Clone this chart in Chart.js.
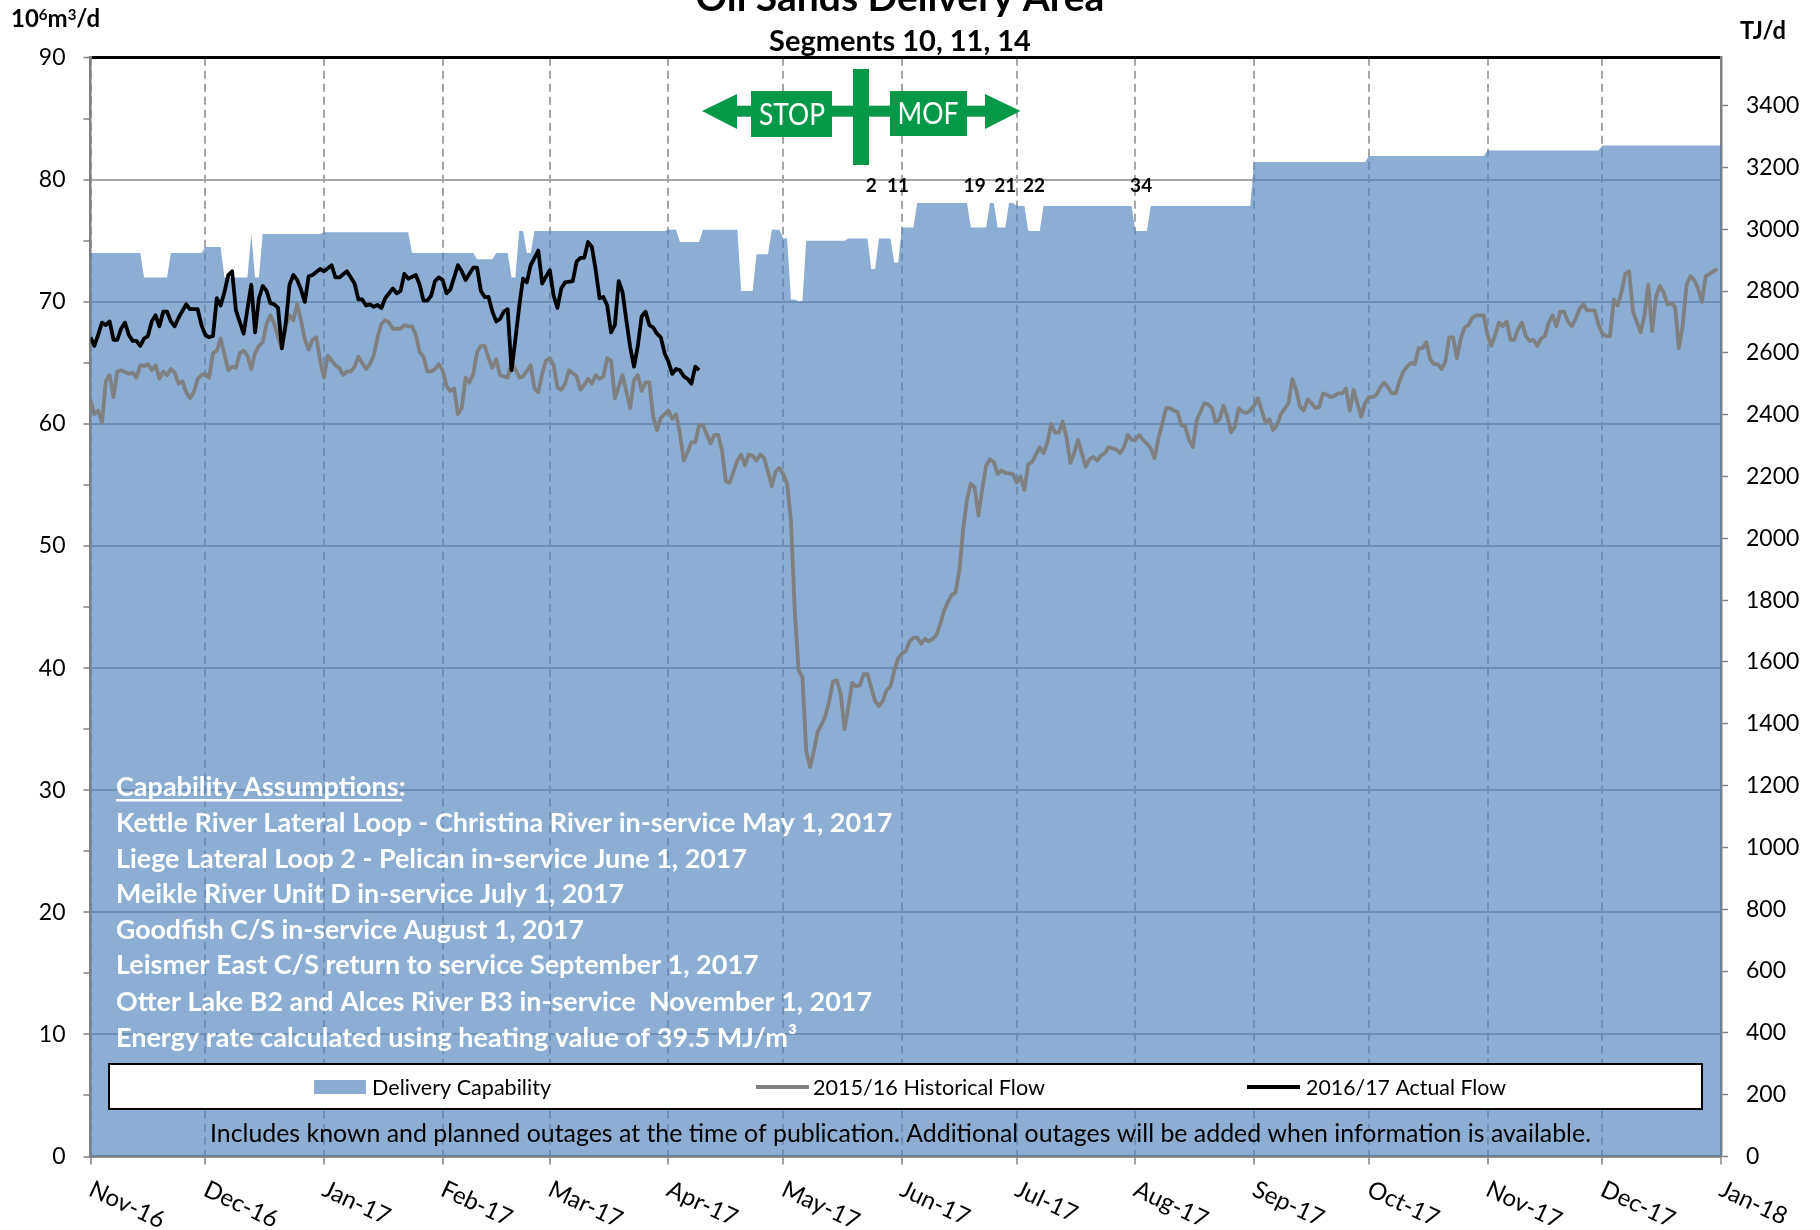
<!DOCTYPE html>
<html>
<head>
<meta charset="utf-8">
<style>html,body{margin:0;padding:0;background:#fff}canvas{display:block}</style>
<script src="https://cdn.jsdelivr.net/npm/chart.js@4/dist/chart.umd.min.js"></script>
</head>
<body>
<canvas id="c" width="1820" height="1230"></canvas>
<script>
const monthDays = [0,30,61,92,120,151,181,212,242,273,304,334,365,395,426];
const monthLabels = ['Nov-16','Dec-16','Jan-17','Feb-17','Mar-17','Apr-17','May-17','Jun-17','Jul-17','Aug-17','Sep-17','Oct-17','Nov-17','Dec-17','Jan-18'];

const deliveryCapability = [[0,74],[13,74],[14,72],[20,72],[21,74],[29,74],[30,74.5],[34,74.5],[35,72],[41,72],[42,75.55],[43,72],[44,72],[45,75.55],[60,75.55],[61,75.7],[83,75.7],[84,74],[100,74],[101,73.5],[105,73.5],[106,74],[109,74],[110,72],[111,72],[112,75.8],[113,75.8],[114,74],[115,74],[116,75.8],[150,75.8],[151,75.9],[153,75.9],[154,74.9],[159,74.9],[160,75.9],[169,75.9],[170,70.9],[173,70.9],[174,73.9],[177,73.9],[178,75.9],[180,75.9],[181,75.2],[182,75.2],[183,70.2],[184,70.2],[185,70.05],[186,70.05],[187,75],[197,75],[198,75.2],[203,75.2],[204,72.7],[205,72.7],[206,75.2],[209,75.2],[210,73.2],[211,73.2],[212,76.1],[215,76.1],[216,78.1],[229,78.1],[230,76.1],[234,76.1],[235,78.1],[236,78.1],[237,76.1],[239,76.1],[240,78.1],[241,78.1],[242,77.85],[244,77.85],[245,75.8],[248,75.8],[249,77.85],[272,77.85],[273,75.8],[276,75.8],[277,77.85],[303,77.85],[304,81.45],[333,81.45],[334,81.95],[364,81.95],[365,82.4],[394,82.4],[395,82.8],[426,82.8]];

const historicalFlow = [[0,61.9],[1,60.8],[2,61.1],[3,60.1],[4,63.5],[5,64],[6,62.2],[7,64.3],[8,64.4],[10,64.1],[11,64.2],[12,63.8],[13,64.8],[14,64.75],[15,64.9],[16,64.4],[17,64.8],[18,63.7],[19,64.3],[20,64],[21,64.5],[22,64.2],[23,63.3],[24,63.5],[25,62.6],[26,62.1],[27,62.6],[28,63.7],[29,64],[30,64.1],[31,63.8],[32,65.8],[33,66],[34,67],[36,64.4],[37,64.7],[38,64.6],[39,65.8],[40,66],[41,65.6],[42,64.5],[43,65.8],[44,66.4],[45,66.7],[46,68.2],[47,68.9],[48,68.2],[49,67.1],[50,66.2],[51,68],[52,68.9],[53,68.5],[54,69.8],[55,68.5],[56,66.9],[57,66.1],[58,66.9],[59,67.1],[60,65.2],[61,63.8],[62,65.6],[63,65.2],[64,64.8],[65,64.6],[66,64],[67,64.3],[68,64.3],[69,64.7],[70,65.5],[71,65],[72,64.5],[73,64.9],[74,65.6],[75,67.1],[76,68.2],[77,68.5],[78,68.3],[79,67.8],[81,67.8],[82,68.1],[83,68],[84,68],[85,67.3],[86,65.9],[87,65.5],[88,64.3],[89,64.3],[90,64.5],[91,64.9],[92,64.4],[93,63.1],[94,62.7],[95,62.9],[96,60.8],[97,61.3],[98,63.8],[99,63.4],[100,64.1],[101,65.9],[102,66.4],[103,66.4],[104,65.4],[105,64.6],[106,65.3],[107,64],[108,63.9],[109,63.8],[110,65.1],[111,64.5],[112,63.8],[113,63.9],[115,64.8],[116,62.9],[117,62.6],[118,64.1],[119,65.2],[120,65.4],[121,64.8],[122,63],[123,62.8],[124,63.3],[125,64.4],[127,63.9],[128,62.8],[129,63.2],[130,63.7],[131,63.3],[132,64],[133,63.7],[134,63.9],[135,65.4],[136,65.2],[137,62.1],[139,64],[141,61.3],[142,63.6],[143,64],[144,62.7],[145,63.4],[146,63.4],[147,60.6],[148,59.5],[149,60.5],[150,60.8],[151,61.1],[152,60.4],[153,60.8],[154,59.2],[155,57],[156,57.7],[157,58.5],[158,58.5],[159,59.9],[160,59.9],[162,58.4],[163,59.1],[164,59.1],[165,57.8],[166,55.3],[167,55.2],[168,56.1],[169,57],[170,57.5],[171,56.6],[172,57.5],[173,57.4],[174,57],[175,57.5],[176,57.2],[177,56.1],[178,54.9],[179,56.1],[180,56.4],[181,55.9],[182,55.1],[183,52.1],[184,44.7],[185,39.8],[186,39.3],[187,33.2],[188,31.9],[189,33.2],[190,34.8],[191,35.4],[192,36.1],[193,37.3],[194,38.9],[195,39],[196,37.9],[197,35],[198,36.8],[199,38.8],[200,38.5],[201,38.6],[202,39.5],[203,39.5],[204,38.4],[205,37.3],[206,36.9],[207,37.3],[208,38.2],[209,38.5],[210,39.8],[211,40.8],[212,41.2],[213,41.4],[214,42.2],[215,42.5],[216,42.5],[217,42],[218,42.4],[219,42.2],[220,42.4],[221,42.7],[222,43.6],[223,44.7],[224,45.4],[225,46],[226,46.2],[227,48],[228,51.4],[229,53.8],[230,55.1],[231,54.8],[232,52.5],[233,54.7],[234,56.6],[235,57.1],[236,56.9],[237,55.9],[238,56.2],[239,56],[241,55.9],[242,55.2],[243,55.7],[244,54.6],[245,56.7],[246,56.9],[248,58.1],[249,57.6],[250,58.5],[251,60],[252,59.3],[253,59.3],[254,60.2],[255,58.9],[256,56.8],[257,57.6],[258,58.7],[259,57.6],[260,56.5],[261,57.1],[262,57.3],[263,57],[264,57.4],[265,57.6],[266,58.1],[268,57.9],[269,57.6],[270,58.1],[271,59.1],[272,58.7],[273,58.7],[274,59.1],[275,58.7],[276,58.4],[277,58],[278,57.2],[279,58.8],[280,60],[281,61.3],[282,61.3],[283,61.1],[284,61],[285,59.9],[286,59.8],[287,58.7],[288,58.1],[289,60.3],[290,61],[291,61.7],[292,61.6],[293,61.3],[294,60.1],[295,60.4],[296,61.5],[297,60.6],[298,59.3],[299,59.8],[300,61.3],[301,61],[302,60.9],[303,61.1],[304,61.5],[305,62.1],[306,61.1],[307,60.1],[308,60.4],[309,59.5],[310,59.9],[311,60.8],[313,61.7],[314,63.7],[315,62.8],[316,61.4],[317,61.1],[318,62],[319,61.7],[320,61.3],[321,61.4],[322,62.5],[323,62.4],[324,62.2],[325,62.3],[326,62.5],[327,62.5],[328,62.9],[329,61.1],[330,62.8],[331,61.7],[332,60.6],[333,61.7],[334,62.2],[335,62.2],[336,62.4],[337,63],[338,63.4],[339,63],[340,62.5],[341,62.5],[342,63.5],[343,64.3],[344,64.7],[345,65],[346,64.9],[347,66.2],[348,66.2],[349,66.7],[350,65.3],[351,64.9],[352,64.9],[353,64.5],[354,65.1],[355,67.1],[356,67.1],[357,65.4],[358,67],[359,67.9],[360,68.1],[361,68.7],[362,68.9],[363,68.9],[364,68.9],[365,67.3],[366,66.4],[367,67.3],[368,68.3],[369,68],[370,68.4],[371,66.9],[372,66.9],[373,67.8],[374,68.3],[375,67.2],[376,66.8],[377,66.9],[378,66.4],[379,67],[380,67.2],[381,68.3],[382,68.9],[383,68],[384,69.2],[385,69.2],[386,68.4],[387,68],[388,68.6],[389,69.4],[390,69.8],[391,69.3],[392,69.3],[393,69.3],[394,68.1],[395,67.4],[396,67.2],[397,67.2],[398,70.2],[399,69.7],[400,70.8],[401,72.3],[402,72.5],[403,69.2],[405,67.5],[406,68.9],[407,71.4],[408,67.6],[409,70.4],[410,71.3],[411,70.8],[412,69.8],[413,69.9],[414,69.6],[415,66.2],[416,68.1],[417,71.4],[418,72.1],[419,71.8],[420,71.1],[421,70],[422,72.1],[423,72.3],[425,72.7]];

const actualFlow = [[0,67.1],[1,66.4],[2,67.3],[3,68.3],[4,68.1],[5,68.4],[6,66.9],[7,66.9],[8,67.8],[9,68.3],[10,67.3],[11,66.8],[12,66.8],[13,66.4],[14,67],[15,67.2],[16,68.4],[17,68.9],[18,68],[19,69.2],[20,69.2],[21,68.4],[22,68],[23,68.7],[25,69.8],[26,69.4],[28,69.4],[29,68.1],[30,67.3],[31,67.1],[32,67.2],[33,70.3],[34,69.7],[35,70.8],[36,72.2],[37,72.5],[38,69.3],[40,67.4],[42,71.4],[43,67.5],[44,70.3],[45,71.3],[46,70.9],[47,69.9],[48,69.8],[49,69.5],[50,66.2],[51,68.2],[52,71.4],[53,72.2],[54,71.8],[55,71],[56,70],[57,72.1],[58,72.2],[60,72.7],[61,72.5],[63,73],[64,72],[65,72],[67,72.5],[68,72],[69,71.5],[70,70.2],[71,70.2],[72,69.7],[73,69.8],[74,69.6],[75,69.75],[76,69.5],[77,70.3],[79,71.1],[80,70.7],[81,70.9],[82,72.3],[83,71.9],[85,72.2],[86,71.4],[87,70.1],[88,70.1],[89,70.5],[90,71.7],[91,72],[92,71.8],[93,70.7],[94,71],[96,73],[97,72.5],[98,71.8],[99,72.3],[100,72.8],[101,72.8],[102,70.9],[103,70.4],[104,70.4],[105,69.2],[106,68.4],[107,68.6],[108,69.2],[109,69.4],[110,64.4],[111,66.9],[112,69.6],[113,71.9],[114,71.6],[115,73],[117,74.2],[118,71.5],[120,72.6],[121,70.5],[122,69.5],[123,71.1],[124,71.6],[126,71.7],[127,73.3],[128,73.6],[129,73.6],[130,74.9],[131,74.5],[132,72.6],[133,70.3],[134,70.4],[135,69.7],[136,67.5],[137,68.1],[138,71.7],[139,70.8],[140,68.5],[141,66.3],[142,64.7],[143,66.4],[144,68.8],[145,69.2],[146,68.1],[147,67.9],[148,67.4],[149,67.1],[150,65.8],[151,65.1],[152,64.1],[153,64.5],[154,64.4],[155,63.9],[156,63.7],[157,63.3],[158,64.7],[159,64.4]];

const leftTickStep = 5;
const rightTickStep = 200;
const leftMax = 90;
const rightMax = 3555;
const outageLabels = ['2','11','19','21','22','34'];
const outageDays = [204,211,231,239,246.5,274.5];
const assumptionLines = [
  'Capability Assumptions:',
  'Kettle River Lateral Loop - Christina River in-service May 1, 2017',
  'Liege Lateral Loop 2 - Pelican in-service June 1, 2017',
  'Meikle River Unit D in-service July 1, 2017',
  'Goodfish C/S in-service August 1, 2017',
  'Leismer East C/S return to service September 1, 2017',
  'Otter Lake B2 and Alces River B3 in-service  November 1, 2017',
  'Energy rate calculated using heating value of 39.5 MJ/m³'
];
const assumptionWidths = [293,778,631,508,468,644,756,691];
const assumptionY = [787,823,859,894,930,965,1002,1038];
const footnote = 'Includes known and planned outages at the time of publication. Additional outages will be added when information is available.';

const FONT = 'Lato, Carlito, sans-serif';
const toXY = a => a.map(p => ({x:p[0], y:p[1]}));

function text(ctx, s, x, y, font, color, align, maxW, base){
  ctx.font = font + ' ' + FONT;
  ctx.fillStyle = color;
  ctx.textAlign = align || 'left';
  ctx.textBaseline = base || 'alphabetic';
  if (maxW) ctx.fillText(s, x, y, maxW); else ctx.fillText(s, x, y);
}

const overlay = {
  id:'overlay',
  afterDraw(chart){
    const ctx = chart.ctx, xs = chart.scales.x, ys = chart.scales.y;
    ctx.save();
    // rotated month labels
    xs.ticks.forEach(t => {
      ctx.save();
      ctx.translate(xs.getPixelForValue(t.value) + 5, 1177);
      ctx.rotate(25 * Math.PI / 180);
      text(ctx, t.label, 0, 0, '24px', '#000', 'left', 84, 'top');
      ctx.restore();
    });
    // titles
    text(ctx, 'Oil Sands Delivery Area', 900, 11, 'bold 39px', '#000', 'center', 411);
    text(ctx, 'Segments 10, 11, 14', 900, 50.5, 'bold 29px', '#000', 'center', 265);
    // left unit label with raised exponents
    text(ctx, '10', 11, 27, 'bold 24px', '#000', 'left');
    let ux = 11 + ctx.measureText('10').width;
    text(ctx, '6', ux, 20, 'bold 15px', '#000', 'left');
    ux += ctx.measureText('6').width;
    text(ctx, 'm', ux, 27, 'bold 24px', '#000', 'left');
    ux += ctx.measureText('m').width;
    text(ctx, '3', ux, 20, 'bold 15px', '#000', 'left');
    ux += ctx.measureText('3').width;
    text(ctx, '/d', ux, 27, 'bold 24px', '#000', 'left');
    text(ctx, 'TJ/d', 1740, 39, 'bold 24px', '#000', 'left', 46);
    // outage numbers
    outageLabels.forEach((s,i) => {
      text(ctx, s, xs.getPixelForValue(outageDays[i]), ys.getPixelForValue(79.5), 'bold 19px', '#000', 'center', null, 'middle');
    });
    // STOP / MOF symbol
    const g = '#059849';
    ctx.fillStyle = g;
    ctx.fillRect(853,69,16,96);
    ctx.fillRect(735,105.7,252,11);
    ctx.fillRect(751,91,81,46);
    ctx.fillRect(890,91,77,45);
    ctx.beginPath(); ctx.moveTo(702,111); ctx.lineTo(737,94); ctx.lineTo(737,129); ctx.closePath(); ctx.fill();
    ctx.beginPath(); ctx.moveTo(1020.5,111); ctx.lineTo(985,94); ctx.lineTo(985,129); ctx.closePath(); ctx.fill();
    text(ctx, 'STOP', 792, 115, '30px', '#fff', 'center', 66, 'middle');
    text(ctx, 'MOF', 928, 114, '30px', '#fff', 'center', 61, 'middle');
    // assumptions
    assumptionLines.forEach((s,i) => {
      text(ctx, s, 116, assumptionY[i], 'bold 27px', '#fff', 'left', assumptionWidths[i], 'middle');
    });
    ctx.fillStyle = '#fff';
    ctx.fillRect(116, 799, 286, 2.5);
    // legend
    ctx.fillStyle = '#fff';
    ctx.fillRect(109,1064,1593,45);
    ctx.strokeStyle = '#000'; ctx.lineWidth = 2;
    ctx.strokeRect(109,1064,1593,45);
    chart.data.datasets.forEach((d,i) => {
      const lx = [314,756,1247][i], tx = [372,813,1306][i], tw = [179,232,200][i];
      if (i === 0) {
        ctx.fillStyle = '#8cabd3';
        ctx.fillRect(lx,1080,52,14);
      } else {
        ctx.strokeStyle = d.borderColor; ctx.lineWidth = 3.8;
        ctx.beginPath(); ctx.moveTo(lx,1087); ctx.lineTo(lx + 53,1087); ctx.stroke();
      }
      text(ctx, d.label, tx, 1088, '22px', '#000', 'left', tw, 'middle');
    });
    // footnote
    text(ctx, footnote, 210, 1134, '25px', '#000', 'left', 1381, 'middle');
    ctx.restore();
  }
};

new Chart(document.getElementById('c'), {
  type:'line',
  plugins:[overlay],
  data:{datasets:[
    {label:'Delivery Capability', data:toXY(deliveryCapability), yAxisID:'y', order:3, fill:'origin',
     backgroundColor:'rgba(79,129,189,0.65)', borderWidth:0, borderColor:'rgba(0,0,0,0)', pointRadius:0, tension:0},
    {label:'2015/16 Historical Flow', data:toXY(historicalFlow), yAxisID:'y', order:2, fill:false,
     borderColor:'#808080', borderWidth:3.8, pointRadius:0, tension:0, borderJoinStyle:'round'},
    {label:'2016/17 Actual Flow', data:toXY(actualFlow), yAxisID:'y', order:1, fill:false,
     borderColor:'#000000', borderWidth:3.8, pointRadius:0, tension:0, borderJoinStyle:'round'}
  ]},
  options:{
    responsive:false, animation:false, devicePixelRatio:1,
    layout:{padding:{top:57.7,left:0,right:0,bottom:0}},
    plugins:{legend:{display:false},title:{display:false},tooltip:{enabled:false}},
    scales:{
      x:{
        type:'linear', min:0, max:426,
        afterBuildTicks(s){ s.ticks = monthDays.map(v => ({value:v})); },
        afterFit(s){ s.height = 73.5; },
        border:{display:true,color:'#808080',width:2.5,dash:[8,5]},
        grid:{color:'#a6a6a6',lineWidth:2,drawTicks:true,tickLength:8,tickColor:'#808080',tickWidth:1.5,tickBorderDash:[]},
        ticks:{display:false,autoSkip:false,callback:v => monthLabels[monthDays.indexOf(v)]}
      },
      y:{
        position:'left', min:0, max:leftMax,
        afterFit(s){ s.width = 90.5; },
        border:{color:'#808080',width:2.5},
        grid:{
          color:c => c.tick.value === 90 ? '#000' : (c.tick.value % 10 === 0 ? '#a6a6a6' : 'rgba(0,0,0,0)'),
          lineWidth:c => c.tick.value === 90 ? 3 : 2,
          tickColor:'#808080',tickWidth:1.5,tickLength:7
        },
        ticks:{stepSize:leftTickStep,autoSkip:false,includeBounds:false,padding:18,color:'#000',
          font:{family:FONT,size:23},callback:v => v % 10 === 0 ? String(v) : ''}
      },
      y2:{
        position:'right', min:0, max:rightMax,
        afterFit(s){ s.width = 99; },
        border:{color:'#808080',width:2.5},
        grid:{drawOnChartArea:false,tickColor:'#808080',tickWidth:1.5,tickLength:7},
        ticks:{stepSize:rightTickStep,autoSkip:false,includeBounds:false,padding:18,color:'#000',
          font:{family:FONT,size:23},callback:v => String(v)}
      }
    }
  }
});
</script>
</body>
</html>
